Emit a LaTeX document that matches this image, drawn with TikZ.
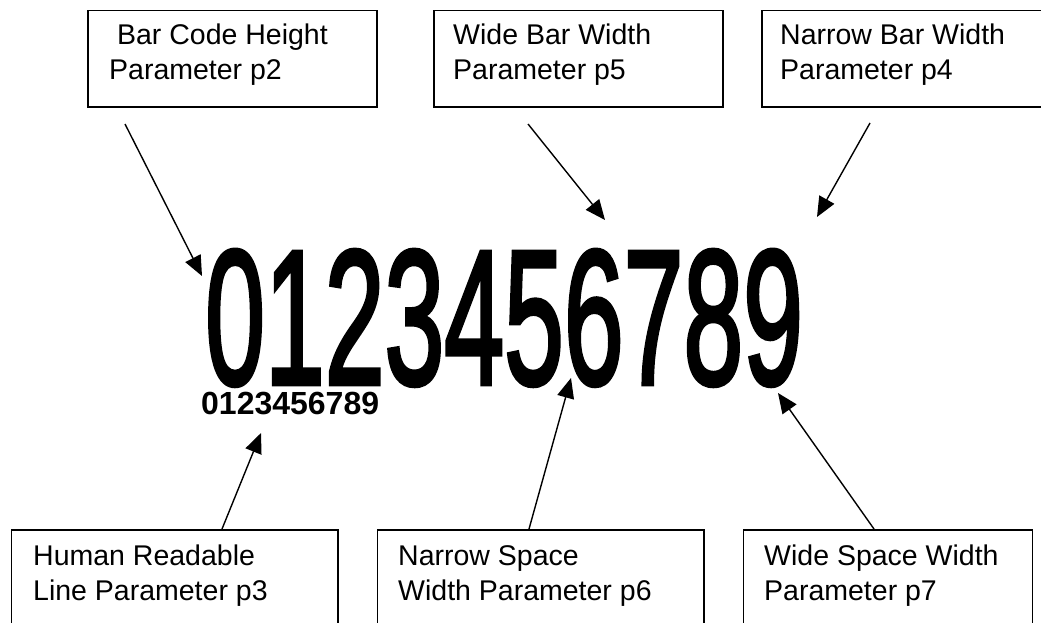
\documentclass[tikz,border=0pt]{standalone}
\usepackage{fontspec}
\setmainfont{Liberation Sans}
\newfontfamily\bigdigits{Liberation Sans}[BoldFont={Liberation Sans}, BoldFeatures={FakeBold=2.5}]
\usetikzlibrary{arrows.meta}
\tikzset{
  pbox/.style={draw=black, line width=1.8pt, inner sep=0pt, anchor=north west},
  ptext/.style={inner sep=0pt, anchor=north west, align=left, font=\fontsize{28.5}{35}\selectfont},
  parrow/.style={line width=1.4pt, -{Triangle[length=20pt,width=17pt]}}
}
\begin{document}
\begin{tikzpicture}[x=1pt,y=-1pt]
\useasboundingbox (0,0) rectangle (1041,622);
\clip (0,0) rectangle (1041,622);
% top boxes
\node[pbox, minimum width=289pt, minimum height=96.5pt] (b1) at (87,9.5) {};
\node[pbox, minimum width=289pt, minimum height=96.5pt] (b2) at (433,9.5) {};
\node[pbox, minimum width=330pt, minimum height=96.5pt] (b3) at (761,9.5) {};
% bottom boxes
\node[pbox, minimum width=326.5pt, minimum height=96.5pt] (b4) at (10.5,529) {};
\node[pbox, minimum width=326.5pt, minimum height=96.5pt] (b5) at (376.5,529) {};
\node[pbox, minimum width=289pt, minimum height=96.5pt] (b6) at (742.5,529) {};
% texts
\node[ptext] (t1) at (109,23.5) {\ Bar Code Height\\Parameter p2};
\node[ptext] (t2) at (453,23.5) {Wide Bar Width\\Parameter p5};
\node[ptext] (t3) at (780,23.5) {Narrow Bar Width\\Parameter p4};
\node[ptext] (t4) at (33,545) {Human Readable\\Line Parameter p3};
\node[ptext] (t5) at (398,545) {Narrow Space\\Width Parameter p6};
\node[ptext] (t6) at (764,545) {Wide Space Width\\Parameter p7};
% digits
\node[inner sep=0pt, anchor=base west] (big) at (205,384)
  {\scalebox{0.56}[1]{\bigdigits\bfseries\fontsize{192}{192}\selectfont 0123456789}};
\node[inner sep=0pt, anchor=base west] (small) at (201,414)
  {\fontsize{32}{32}\selectfont\bfseries 0123456789};
% arrow coordinates
\coordinate (s1) at (125,124); \coordinate (e1) at (202,276);
\coordinate (s2) at (528,124); \coordinate (e2) at (605,220);
\coordinate (s3) at (870,123); \coordinate (e3) at (817,217);
\coordinate (s4) at (222,529); \coordinate (e4) at (261,433);
\coordinate (s5) at (529,529); \coordinate (e5) at (571,378);
\coordinate (s6) at (874,529); \coordinate (e6) at (778,393);
\draw[parrow] (s1) -- (e1);
\draw[parrow] (s2) -- (e2);
\draw[parrow] (s3) -- (e3);
\draw[parrow] (s4) -- (e4);
\draw[parrow] (s5) -- (e5);
\draw[parrow] (s6) -- (e6);
\end{tikzpicture}
\end{document}
